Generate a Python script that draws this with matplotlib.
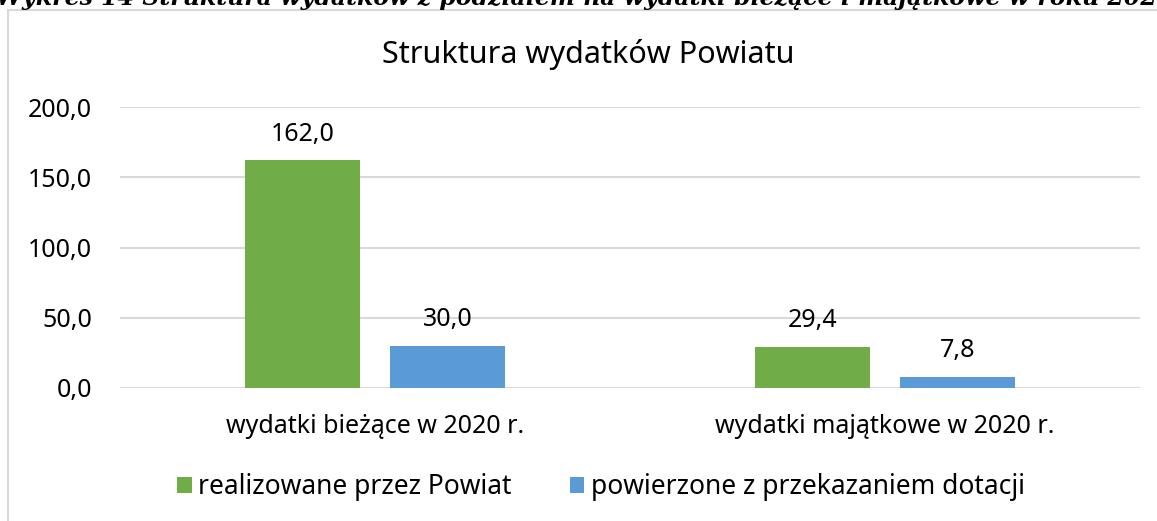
import matplotlib.pyplot as plt
import numpy as np
from matplotlib.patches import Rectangle

# Dane
kategorie = ["wydatki bieżące w 2020 r.", "wydatki majątkowe w 2020 r."]
realizowane = [162.0, 29.4]
powierzone = [30.0, 7.8]
serie = ["realizowane przez Powiat", "powierzone z przekazaniem dotacji"]
y_ticks = [0, 50, 100, 150, 200]

plt.rcParams["font.family"] = ["Noto Sans", "DejaVu Sans"]

fig = plt.figure(figsize=(11.57, 5.21), dpi=100)

# Ramka wykresu
fig.patches.append(Rectangle((8 / 1157, -0.1), 1.2, 1 - 10 / 521 + 0.1,
                             transform=fig.transFigure, fill=False,
                             edgecolor="#D9D9D9", linewidth=1.5))

# Podpis nad wykresem (ucięty)
fig.text(-4 / 1157, 1 - 5 / 521, "Wykres 14 Struktura wydatków z podziałem na wydatki bieżące i majątkowe w roku 2020",
         fontsize=17, family="DejaVu Serif", weight="bold", style="italic",
         ha="left", va="baseline")

ax = fig.add_axes([120 / 1157, 1 - 388 / 521, (1140 - 120) / 1157, (388 - 107) / 521])

x = np.arange(len(kategorie))
w = 0.225
off = 0.142
b1 = ax.bar(x - off, realizowane, w, color="#70AD47", label=serie[0], zorder=3)
b2 = ax.bar(x + off, powierzone, w, color="#5B9BD5", label=serie[1], zorder=3)

for bars in (b1, b2):
    for b in bars:
        ax.annotate(f"{b.get_height():.1f}".replace(".", ","),
                    (b.get_x() + b.get_width() / 2, b.get_height()),
                    xytext=(0, 10), textcoords="offset points",
                    ha="center", va="bottom", fontsize=18, color="#000000")

ax.set_xlim(-0.5, 1.5)
ax.set_ylim(0, 200)
ax.set_yticks(y_ticks)
ax.set_yticklabels([f"{v:.1f}".replace(".", ",") for v in y_ticks])
ax.set_xticks(x)
ax.set_xticklabels(kategorie)
ax.tick_params(axis="both", length=0, labelsize=18, colors="#000000")
ax.tick_params(axis="y", pad=20)
ax.tick_params(axis="x", pad=19)
ax.grid(axis="y", color="#D9D9D9", linewidth=1.5, zorder=0)
for s in ax.spines.values():
    s.set_visible(False)

fig.text(588 / 1157, 1 - 55 / 521, "Struktura wydatków Powiatu", fontsize=22,
         ha="center", va="center")

fig.legend(handles=[b1, b2], labels=serie, loc="center", bbox_to_anchor=(601 / 1157, 1 - 487 / 521),
           ncol=2, frameon=False, fontsize=19, handlelength=0.55, handleheight=0.55,
           handletextpad=0.25, columnspacing=2.2)

fig.savefig("out.png", dpi=100)
